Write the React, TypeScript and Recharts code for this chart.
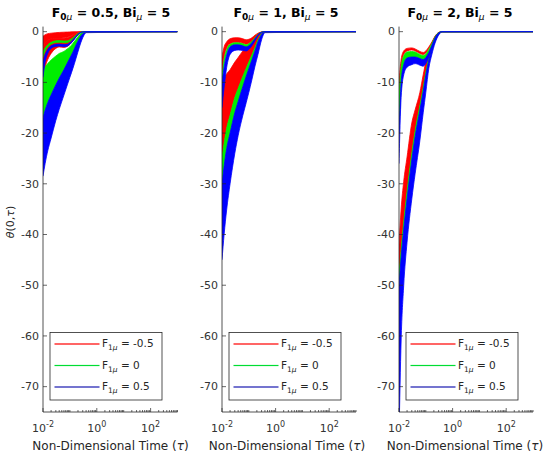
import React from "react";
import { ComposedChart, Area, XAxis, YAxis } from "recharts";

// sample times (tau), shared by every band
const tau = [0.01, 0.012, 0.015, 0.02, 0.03, 0.04, 0.06, 0.08, 0.1, 0.13, 0.17, 0.22, 0.3, 0.4, 1000];

const f0Values = ["0.5", "1", "2"];
const biValue = "5";
const f1Values = ["-0.5", "0", "0.5"];
const yTicks = [0, -10, -20, -30, -40, -50, -60, -70];
const decades = [0.01, 0.1, 1, 10, 100];
const labeledTicks = [0.01, 1, 100];

// panel 1: F0 = 0.5
const p1RedTopHi = [-0.9, -0.6, -0.4, -0.3, -0.2, -0.15, -0.1, -0.08, -0.05, -0.03, -0.01, 0, 0, 0, 0];
const p1RedTopLo = [-3, -2.2, -1.7, -1.4, -1.3, -1.3, -1.2, -1.1, -0.9, -0.6, -0.3, -0.1, 0, 0, 0];
const p1RedLowHi = [-3, -2.2, -1.7, -1.4, -1.3, -1.3, -1.3, -1.2, -1.0, -0.7, -0.35, -0.1, 0, 0, 0];
const p1RedLowLo = [-9, -7, -5.5, -4.3, -3.3, -3, -3.1, -2.9, -2.5, -1.8, -1, -0.4, -0.05, 0, 0];
const p1GreenTopHi = [-4, -3.2, -2.6, -2.1, -1.8, -1.75, -1.85, -1.8, -1.6, -1.2, -0.65, -0.22, -0.03, 0, 0];
const p1GreenTopLo = [-5, -3.8, -3, -2.45, -2.15, -2.1, -2.2, -2.15, -1.9, -1.4, -0.8, -0.28, -0.04, 0, 0];
const p1BlueTopHi = [-6, -4.5, -3.5, -2.8, -2.5, -2.45, -2.55, -2.5, -2.2, -1.6, -0.9, -0.32, -0.05, 0, 0];
const p1BlueTopLo = [-9, -6, -4.3, -3.3, -2.9, -2.85, -2.95, -2.85, -2.5, -1.85, -1.05, -0.38, -0.06, 0, 0];
const p1GreenLowHi = [-8, -7, -6.3, -5.6, -4.8, -4.3, -3.9, -3.4, -3, -2.3, -1.5, -0.7, -0.12, -0.01, 0];
const p1GreenLowLo = [-17, -15.5, -14, -12.5, -10.5, -9.2, -7.5, -6.2, -5.2, -4, -2.6, -1.4, -0.4, -0.05, 0];
const p1BlueLowLo = [-28.5, -26, -23.5, -21, -17.5, -15.3, -12.5, -10.5, -9, -7.2, -5.2, -3.2, -1.2, -0.2, 0];

// panel 2: F0 = 1
const p2RedTopHi = [-5, -3, -2, -1.4, -1.2, -1.2, -1.4, -1.6, -1.5, -1.2, -0.7, -0.3, -0.05, 0, 0];
const p2RedTopLo = [-8, -5, -3.2, -2.4, -2.1, -2.1, -2.3, -2.5, -2.3, -1.8, -1.1, -0.5, -0.1, 0, 0];
const p2GreenTopHi = [-9, -5.5, -3.5, -2.5, -2.2, -2.2, -2.4, -2.6, -2.4, -1.9, -1.2, -0.55, -0.1, 0, 0];
const p2GreenTopLo = [-10, -6.5, -4.2, -2.9, -2.6, -2.6, -2.8, -3, -2.8, -2.2, -1.4, -0.6, -0.12, 0, 0];
const p2BlueTopHi = [-10, -7, -4.5, -3, -2.6, -2.6, -2.8, -3, -2.8, -2.2, -1.4, -0.6, -0.12, 0, 0];
const p2BlueTopLo = [-15, -11, -7, -4.5, -3.7, -3.6, -3.7, -3.8, -3.5, -2.8, -1.8, -0.8, -0.2, 0, 0];
const p2RedLowHi = [-10, -9.2, -8.3, -7.5, -6, -5.1, -3.8, -3, -2.5, -1.7, -1.1, -0.5, -0.08, 0, 0];
const p2RedLowLo = [-25, -22, -19, -16.5, -13, -11.2, -8.8, -7.2, -6, -4.6, -3.1, -1.6, -0.4, -0.03, 0];
const p2GreenLowLo = [-30, -26.5, -23, -20, -16, -13.8, -10.8, -8.8, -7.3, -5.6, -3.8, -2, -0.55, -0.05, 0];
const p2BlueLowLo = [-45, -40, -35, -30, -24, -20.5, -16.5, -14, -12, -9.5, -6.8, -4.5, -1.6, -0.2, 0];

// panel 3: F0 = 2
const p3RedTopHi = [-10, -5.5, -3.8, -3.3, -3.2, -3.4, -3.9, -4.1, -3.8, -3, -2, -0.9, -0.15, 0, 0];
const p3RedTopLo = [-12, -7, -4.5, -3.8, -3.6, -3.8, -4.3, -4.5, -4.2, -3.3, -2.2, -1, -0.2, 0, 0];
const p3GreenTopHi = [-12, -7, -4.8, -4, -3.9, -4, -4.5, -4.7, -4.4, -3.5, -2.3, -1.05, -0.2, 0, 0];
const p3GreenTopLo = [-20, -10, -6.5, -5.2, -5, -5, -5.3, -5.5, -5.1, -4.1, -2.7, -1.25, -0.25, 0, 0];
const p3BlueTopLo = [-26, -13, -8.5, -7, -6.5, -6.3, -6.6, -6.8, -6.3, -5, -3.3, -1.6, -0.35, 0, 0];
const p3RedLowHi = [-42, -35, -29.5, -24.7, -18, -15.4, -12, -8.5, -6, -4.3, -2.8, -1.4, -0.3, 0, 0];
const p3RedLowLo = [-48, -43, -37.5, -31.5, -24, -19.5, -14.6, -11, -8, -5.2, -3.3, -1.7, -0.4, -0.02, 0];
const p3GreenLowLo = [-50, -44.5, -39, -33, -25.3, -20.7, -15.5, -11.8, -8.6, -5.6, -3.55, -1.85, -0.45, -0.03, 0];
const p3BlueLowLo = [-80, -61, -50, -41.5, -33, -28, -21.5, -16, -12, -7.2, -4.4, -2.3, -0.7, -0.05, 0];

const RED = "#ff0000";
const GREEN = "#00ee00";
const BLUE = "#0000ff";
const AX = "#262626";
const FONT = "'DejaVu Sans', sans-serif";

const W = 550;
const H = 459;
const TOP = 26.6;
const BOTTOM = 412;

const panels = [
  {
    left: 43, right: 177.5, titleX: 111, labelX: 110.5,
    bands: {
      r1: [p1RedTopLo, p1RedTopHi], r2: [p1RedLowLo, p1RedLowHi],
      g1: [p1GreenTopLo, p1GreenTopHi], g2: [p1GreenLowLo, p1GreenLowHi],
      b1: [p1BlueTopLo, p1BlueTopHi], b2: [p1BlueLowLo, p1GreenLowLo],
    },
  },
  {
    left: 222, right: 356, titleX: 286, labelX: 287,
    bands: {
      r1: [p2RedTopLo, p2RedTopHi], r2: [p2RedLowLo, p2RedLowHi],
      g1: [p2GreenTopLo, p2GreenTopHi], g2: [p2GreenLowLo, p2RedLowLo],
      b1: [p2BlueTopLo, p2BlueTopHi], b2: [p2BlueLowLo, p2GreenLowLo],
    },
  },
  {
    left: 399, right: 533, titleX: 460, labelX: 465,
    bands: {
      r1: [p3RedTopLo, p3RedTopHi], r2: [p3RedLowLo, p3RedLowHi],
      g1: [p3GreenTopLo, p3GreenTopHi], g2: [p3GreenLowLo, p3RedLowLo],
      b1: [p3BlueTopLo, p3GreenTopLo], b2: [p3BlueLowLo, p3GreenLowLo],
    },
  },
];

const drawOrder = [
  { key: "r2", color: RED },
  { key: "g2", color: GREEN },
  { key: "b2", color: BLUE },
  { key: "r1", color: RED },
  { key: "g1", color: GREEN },
  { key: "b1", color: BLUE },
];

const legendColors = [RED, "#00dd33", "#1a1ab0"];

const xTicks = [
  ...decades.flatMap((d) => [1, 2, 3, 4, 5, 6, 7, 8, 9].map((m) => d * m)),
  1000,
];

function buildRows(bands: Record<string, number[][]>) {
  return tau.map((t, i) => {
    const row: any = { t };
    Object.keys(bands).forEach((k) => {
      row[k] = [bands[k][0][i], bands[k][1][i]];
    });
    return row;
  });
}

function XTick(props: any) {
  const { x, payload } = props;
  const v = payload.value;
  const major = labeledTicks.some((t) => Math.abs(t - v) / t < 1e-6);
  const exp = Math.round(Math.log10(v));
  return (
    <g>
      <line x1={x} x2={x} y1={BOTTOM} y2={BOTTOM - (major ? 4 : 2)} stroke={AX} strokeWidth={0.7} />
      {major && (
        <text x={x} y={BOTTOM + 19.5} textAnchor="middle" fontFamily={FONT} fontSize={11} fill="#333">
          10<tspan dy={-5} fontSize={8}>{exp}</tspan>
        </text>
      )}
    </g>
  );
}

function makeYTick(left: number) {
  return (props: any) => {
    const { y, payload } = props;
    return (
      <g>
        <line x1={left} x2={left + 4} y1={y} y2={y} stroke={AX} strokeWidth={0.7} />
        <text x={left - 4} y={y} dy={3.8} textAnchor="end" fontFamily={FONT} fontSize={11} fill="#333">
          {payload.value}
        </text>
      </g>
    );
  };
}

function Panel({ p }: { p: (typeof panels)[number] }) {
  const rows = buildRows(p.bands);
  return (
    <div style={{ position: "absolute", left: 0, top: 0 }}>
      <ComposedChart
        width={W}
        height={H}
        data={rows}
        margin={{ top: TOP, bottom: H - BOTTOM - 2, left: p.left - 2, right: W - p.right }}
      >
        <XAxis
          dataKey="t"
          type="number"
          scale="log"
          domain={[0.01, 1000]}
          ticks={xTicks}
          interval={0}
          tick={(props: any) => <XTick {...props} />}
          tickLine={false}
          axisLine={{ stroke: AX, strokeWidth: 0.8 }}
          height={2}
          allowDataOverflow
        />
        <YAxis
          type="number"
          domain={[-75, 1]}
          ticks={yTicks}
          interval={0}
          tick={makeYTick(p.left)}
          tickLine={false}
          axisLine={{ stroke: AX, strokeWidth: 0.8 }}
          width={2}
          allowDataOverflow
        />
        {drawOrder.map((b) => (
          <Area
            key={b.key}
            type="monotone"
            dataKey={b.key}
            stroke={b.color}
            strokeWidth={0.8}
            fill={b.color}
            fillOpacity={1}
            dot={false}
            activeDot={false}
            isAnimationActive={false}
          />
        ))}
      </ComposedChart>
    </div>
  );
}

export default function App() {
  return (
    <div style={{ position: "absolute", left: 0, top: 0, width: W, height: H, background: "#fff" }}>
      {panels.map((p, i) => (
        <Panel key={i} p={p} />
      ))}
      <svg width={W} height={H} style={{ position: "absolute", left: 0, top: 0, pointerEvents: "none" }}>
        {panels.map((p, i) => (
          <g key={i}>
            <text x={p.titleX} y={16.5} textAnchor="middle" fontFamily={FONT} fontSize={12.5} fontWeight="bold" fill="#000">
              F<tspan dy={3.5} fontSize={9}>0</tspan>
              <tspan fontSize={9} fontStyle="italic" fontWeight="normal">μ</tspan>
              <tspan dy={-3.5}>{` = ${f0Values[i]}, Bi`}</tspan>
              <tspan dy={3.5} fontSize={9} fontStyle="italic" fontWeight="normal">μ</tspan>
              <tspan dy={-3.5}>{` = ${biValue}`}</tspan>
            </text>
            <text x={p.labelX} y={450} textAnchor="middle" fontFamily={FONT} fontSize={12} fill="#262626">
              Non-Dimensional Time (<tspan fontStyle="italic">τ</tspan>)
            </text>
            <g transform={`translate(${p.left + 7}, 332.5)`}>
              <rect x={0} y={0} width={112} height={67.5} fill="#fff" stroke={AX} strokeWidth={0.8} />
              {f1Values.map((f, j) => {
                const yy = 11.5 + j * 21.5;
                return (
                  <g key={j}>
                    <rect x={4.5} y={yy - 0.6} width={45} height={1.2} fill={legendColors[j]} />
                    <text x={52} y={yy + 3} fontFamily={FONT} fontSize={10.5} fill="#262626">
                      F<tspan dy={3} fontSize={7.5}>1</tspan>
                      <tspan fontSize={7.5} fontStyle="italic">μ</tspan>
                      <tspan dy={-3}>{` = ${f}`}</tspan>
                    </text>
                  </g>
                );
              })}
            </g>
          </g>
        ))}
        <text
          transform="translate(14, 222) rotate(-90)"
          textAnchor="middle"
          fontFamily={FONT}
          fontSize={11}
          fill="#262626"
        >
          <tspan fontStyle="italic">θ</tspan>(0,<tspan fontStyle="italic">τ</tspan>)
        </text>
      </svg>
    </div>
  );
}
